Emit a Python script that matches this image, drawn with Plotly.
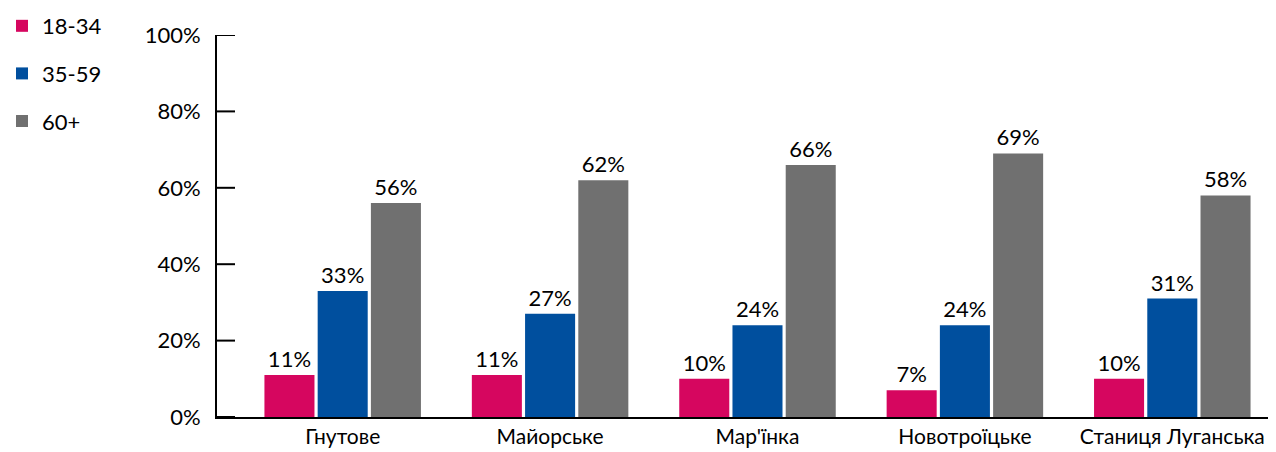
import plotly.graph_objects as go

categories = ["Гнутове", "Майорське", "Мар'їнка", "Новотроїцьке", "Станиця Луганська"]
series_names = ["18-34", "35-59", "60+"]
v_18_34 = [0.11, 0.11, 0.10, 0.07, 0.10]
v_35_59 = [0.33, 0.27, 0.24, 0.24, 0.31]
v_60 = [0.56, 0.62, 0.66, 0.69, 0.58]
colors = ["#D6065F", "#004F9E", "#707070"]
y_ticks = [0, 0.2, 0.4, 0.6, 0.8, 1.0]

FONT = "Lato, 'Open Sans', sans-serif"

fig = go.Figure()
for i, (name, vals) in enumerate(zip(series_names, [v_18_34, v_35_59, v_60])):
    fig.add_trace(go.Bar(
        x=categories, y=vals, name=name,
        marker=dict(color=colors[i], line=dict(width=0)),
        text=[f"{round(v*100)}%" for v in vals],
        textposition="outside", cliponaxis=False,
        textfont=dict(size=22, color="black", family=FONT),
        legendgroup=name,
    ))

# inward tick marks on the y axis, one per tick value
for t in y_ticks:
    fig.add_shape(type="line", xref="x domain", yref="y",
                  x0=0, x1=0.017, y0=t, y1=t,
                  line=dict(color="black", width=2), layer="above")

fig.update_layout(
    width=1276, height=452,
    margin=dict(l=209, r=8, t=27, b=43, autoexpand=False),
    paper_bgcolor="white", plot_bgcolor="white",
    barmode="group", bargap=0.23, bargroupgap=0.06,
    font=dict(family=FONT, size=22, color="black"),
    legend=dict(
        xref="paper", yref="paper", x=-0.203, y=1.0785,
        xanchor="left", yanchor="top",
        font=dict(size=22, family=FONT),
        tracegroupgap=16, itemwidth=30,
    ),
    yaxis=dict(
        range=[0, 1], tickvals=y_ticks, tickformat=".0%",
        showgrid=False, zeroline=False,
        showline=True, linecolor="black", linewidth=2,
        ticks="outside", ticklen=10, tickwidth=2, tickcolor="rgba(0,0,0,0)",
        tickfont=dict(size=22),
    ),
    xaxis=dict(
        range=[-0.606, 4.5],
        showgrid=False, showline=True, linecolor="black", linewidth=2,
        ticks="", tickfont=dict(size=21),
    ),
)

fig.write_html("out.html")
